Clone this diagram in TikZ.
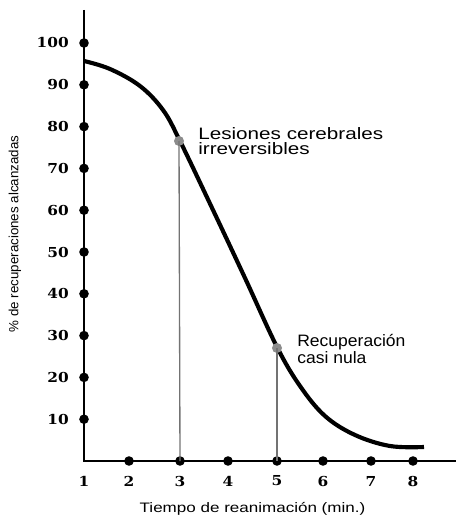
\documentclass[tikz,border=0pt]{standalone}
\usepackage{fontspec}
\setmainfont{Liberation Sans}
\newfontfamily\tickfont{DejaVu Serif}
\tikzset{
  dot/.style={circle, fill=black, inner sep=0pt, minimum size=7.2pt},
  graydot/.style={circle, fill=black!45, inner sep=0pt, minimum size=7.5pt},
  axisline/.style={line width=1.9pt},
  curveline/.style={line width=3.1pt},
  dropline/.style={line width=1pt, draw=black!55},
  ticklab/.style={inner sep=0pt, font=\tickfont\bfseries\fontsize{10.3}{12}\selectfont, xscale=1.12},
  notelab/.style={anchor=north west, align=left, inner sep=0pt, font=\fontsize{12.4}{11.4}\selectfont},
  axislab/.style={inner sep=0pt, font=\fontsize{10.3}{12}\selectfont}
}
\begin{document}
\begin{tikzpicture}[x=0.75pt, y=-0.75pt]
\useasboundingbox (0,0) rectangle (456,517);
% axes
\coordinate (top) at (84,10);
\coordinate (origin) at (84,461);
\coordinate (right) at (456,461);
\draw[axisline] (top) -- (origin) -- (right);
% y ticks
\foreach \v in {10,20,...,100} {
  \node[dot] (y\v) at (84,{461-4.18*\v}) {};
  \node[ticklab, anchor=east] (ly\v) at (69,{461-4.18*\v}) {\v};
}
% x ticks
\node[ticklab] (lx1) at (84,481) {1};
\foreach \n/\xx in {2/129,3/180,4/228,5/277,6/323,7/371,8/413} {
  \node[dot] (x\n) at (\xx,461) {};
  \node[ticklab] (lx\n) at (\xx,481) {\n};
}
% curve
\draw[curveline] plot[smooth, tension=0.6] coordinates {
  (84,61) (110,69) (140,86) (163,110) (180,141) (213,210) (245,278)
  (277,347) (300,386) (325,416) (355,435) (390,446) (424,447)};
% marked points
\node[graydot] (p3) at (179,141) {};
\node[graydot] (p5) at (277,348) {};
\draw[dropline] (p3.center) -- (x3.center);
\draw[dropline] (p5.center) -- (x5.center);
% annotations
\node[notelab, xscale=1.25] (l1) at (198,127.5) {Lesiones cerebrales\\irreversibles};
\node[notelab, xscale=1.06] (l2) at (297,334.5) {Recuperación\\casi nula};
% axis titles
\node[axislab, anchor=base, xscale=1.24] (xt) at (252.5,512) {Tiempo de reanimación (min.)};
\node[axislab, rotate=90, font=\fontsize{10}{12}\selectfont] (yt) at (15,234) {\% de recuperaciones alcanzadas};
\end{tikzpicture}
\end{document}
